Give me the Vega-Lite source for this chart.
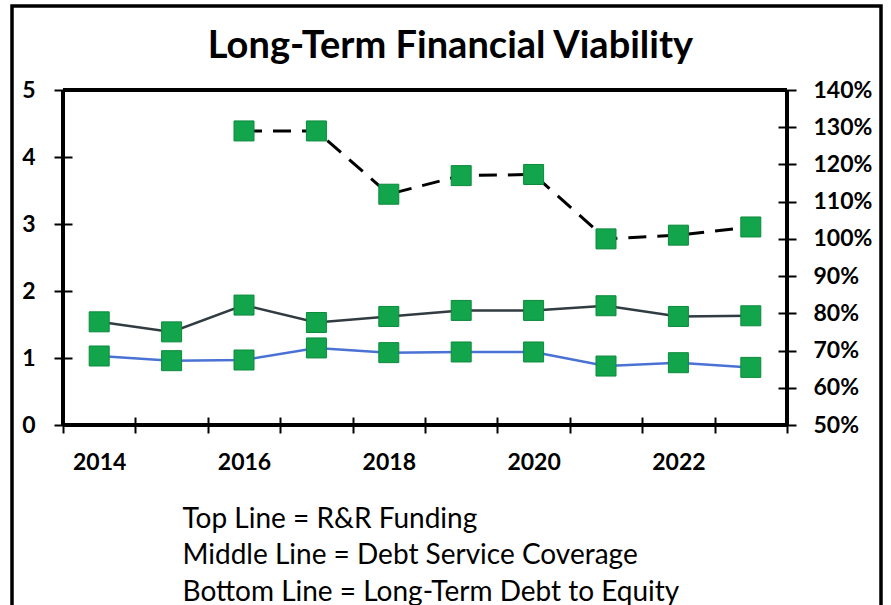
{
  "$schema": "https://vega.github.io/schema/vega-lite/v6.json",
  "width": 869,
  "height": 620,
  "autosize": {"type": "none"},
  "padding": {"left": 12, "top": 6, "right": 10, "bottom": 0},
  "background": "white",
  "config": {
    "view": {"stroke": "black", "strokeWidth": 3.5},
    "font": "Lato",
    "axis": {"grid": false}
  },
  "title": {
    "text": "Long-Term Financial Viability",
    "font": "Lato",
    "fontSize": 38,
    "fontWeight": "bold",
    "color": "black",
    "anchor": "middle",
    "frame": "group",
    "offset": -60,
    "dx": 4
  },
  "data": {
    "values": [
      {"year": 2014, "metric": "Debt Service Coverage", "value": 1.54},
      {"year": 2015, "metric": "Debt Service Coverage", "value": 1.39},
      {"year": 2016, "metric": "Debt Service Coverage", "value": 1.79},
      {"year": 2017, "metric": "Debt Service Coverage", "value": 1.53},
      {"year": 2018, "metric": "Debt Service Coverage", "value": 1.62},
      {"year": 2019, "metric": "Debt Service Coverage", "value": 1.71},
      {"year": 2020, "metric": "Debt Service Coverage", "value": 1.71},
      {"year": 2021, "metric": "Debt Service Coverage", "value": 1.78},
      {"year": 2022, "metric": "Debt Service Coverage", "value": 1.62},
      {"year": 2023, "metric": "Debt Service Coverage", "value": 1.63},
      {"year": 2014, "metric": "Long-Term Debt to Equity", "value": 1.03},
      {"year": 2015, "metric": "Long-Term Debt to Equity", "value": 0.96},
      {"year": 2016, "metric": "Long-Term Debt to Equity", "value": 0.97},
      {"year": 2017, "metric": "Long-Term Debt to Equity", "value": 1.15},
      {"year": 2018, "metric": "Long-Term Debt to Equity", "value": 1.08},
      {"year": 2019, "metric": "Long-Term Debt to Equity", "value": 1.09},
      {"year": 2020, "metric": "Long-Term Debt to Equity", "value": 1.09},
      {"year": 2021, "metric": "Long-Term Debt to Equity", "value": 0.88},
      {"year": 2022, "metric": "Long-Term Debt to Equity", "value": 0.93},
      {"year": 2023, "metric": "Long-Term Debt to Equity", "value": 0.86},
      {"year": 2016, "metric": "R&R Funding", "value": 129},
      {"year": 2017, "metric": "R&R Funding", "value": 129},
      {"year": 2018, "metric": "R&R Funding", "value": 112},
      {"year": 2019, "metric": "R&R Funding", "value": 117},
      {"year": 2020, "metric": "R&R Funding", "value": 117.3},
      {"year": 2021, "metric": "R&R Funding", "value": 100},
      {"year": 2022, "metric": "R&R Funding", "value": 101},
      {"year": 2023, "metric": "R&R Funding", "value": 103.2}
    ]
  },
  "encoding": {
    "x": {
      "field": "year",
      "type": "quantitative",
      "scale": {"domain": [2013.5, 2023.5], "range": [51, 775], "nice": false, "zero": false},
      "axis": {
        "orient": "bottom",
        "values": [2013.5, 2014.5, 2015.5, 2016.5, 2017.5, 2018.5, 2019.5, 2020.5, 2021.5, 2022.5, 2023.5],
        "labelExpr": "(datum.value - 2013.5) % 2 == 0 && datum.value < 2023 ? '' + (datum.value + 0.5) : ''",
        "labelOffset": 36.2,
        "labelFlush": false,
        "labelOverlap": false,
        "labelFont": "Lato",
        "labelFontSize": 23,
        "labelFontWeight": "bold",
        "labelColor": "black",
        "labelPadding": 18,
        "domain": false,
        "offset": -209,
        "tickSize": 16,
        "tickWidth": 2,
        "tickColor": "black",
        "title": ["Top Line = R&R Funding", "Middle Line = Debt Service Coverage", "Bottom Line = Long-Term Debt to Equity"],
        "titleFont": "Lato",
        "titleFontSize": 28,
        "titleFontWeight": "normal",
        "titleColor": "black",
        "titleAlign": "left",
        "titleAnchor": "start",
        "titleBaseline": "alphabetic",
        "titleX": 170,
        "titleY": 110,
        "titleLineHeight": 36.5
      }
    }
  },
  "layer": [
    {
      "encoding": {
        "y": {
          "field": "value",
          "type": "quantitative",
          "scale": {"domain": [0, 5], "range": [419, 84], "nice": false, "zero": false},
          "axis": {
            "orient": "left",
            "values": [0, 1, 2, 3, 4, 5],
            "format": "d",
            "domain": false,
            "offset": -60,
            "tickSize": 18,
            "tickWidth": 2,
            "tickColor": "black",
            "labelPadding": 19,
            "labelFont": "Lato",
            "labelFontSize": 23,
            "labelFontWeight": "bold",
            "labelColor": "black",
            "labelOverlap": false,
            "title": null
          }
        }
      },
      "layer": [
        {
          "mark": {"type": "rule", "color": "black", "strokeWidth": 2.5},
          "encoding": {
            "x": {"datum": 2013.5, "type": "quantitative"},
            "x2": {"datum": 2023.5},
            "y": {"datum": 5, "type": "quantitative"}
          }
        },
        {
          "mark": {"type": "rule", "color": "black", "strokeWidth": 2.5},
          "encoding": {
            "x": {"datum": 2013.5, "type": "quantitative"},
            "x2": {"datum": 2023.5},
            "y": {"datum": 0, "type": "quantitative"}
          }
        },
        {
          "mark": {"type": "rule", "color": "black", "strokeWidth": 2.5},
          "encoding": {
            "x": {"datum": 2013.5, "type": "quantitative"},
            "y": {"datum": 0, "type": "quantitative"},
            "y2": {"datum": 5}
          }
        },
        {
          "mark": {"type": "rule", "color": "black", "strokeWidth": 2.5},
          "encoding": {
            "x": {"datum": 2023.5, "type": "quantitative"},
            "y": {"datum": 0, "type": "quantitative"},
            "y2": {"datum": 5}
          }
        },
        {
          "transform": [{"filter": "datum.metric != 'R&R Funding'"}],
          "mark": {"type": "line", "strokeWidth": 2.5},
          "encoding": {
            "color": {
              "field": "metric",
              "type": "nominal",
              "scale": {"domain": ["Debt Service Coverage", "Long-Term Debt to Equity"], "range": ["#313b42", "#4a72d4"]},
              "legend": null
            }
          }
        },
        {
          "transform": [{"filter": "datum.metric != 'R&R Funding'"}],
          "mark": {"type": "point", "shape": "square", "filled": true, "size": 400, "fill": "#12a54c", "stroke": "#0c8a3c", "strokeWidth": 1, "opacity": 1},
          "encoding": {"detail": {"field": "metric", "type": "nominal"}}
        }
      ]
    },
    {
      "transform": [{"filter": "datum.metric == 'R&R Funding'"}],
      "encoding": {
        "y": {
          "field": "value",
          "type": "quantitative",
          "scale": {"domain": [50, 140], "range": [419, 84], "nice": false, "zero": false},
          "axis": {
            "orient": "right",
            "values": [50, 60, 70, 80, 90, 100, 110, 120, 130, 140],
            "labelExpr": "datum.value + '%'",
            "domain": false,
            "offset": -103,
            "tickSize": 18,
            "tickWidth": 2,
            "tickColor": "black",
            "labelPadding": 17,
            "labelFont": "Lato",
            "labelFontSize": 23,
            "labelFontWeight": "bold",
            "labelColor": "black",
            "labelOverlap": false,
            "title": null
          }
        }
      },
      "layer": [
        {
          "mark": {"type": "line", "color": "black", "strokeWidth": 3, "strokeDash": [18, 11]}
        },
        {
          "mark": {"type": "point", "shape": "square", "filled": true, "size": 400, "fill": "#12a54c", "stroke": "#0c8a3c", "strokeWidth": 1, "opacity": 1}
        }
      ]
    }
  ],
  "resolve": {"scale": {"y": "independent"}, "axis": {"y": "independent"}}
}
